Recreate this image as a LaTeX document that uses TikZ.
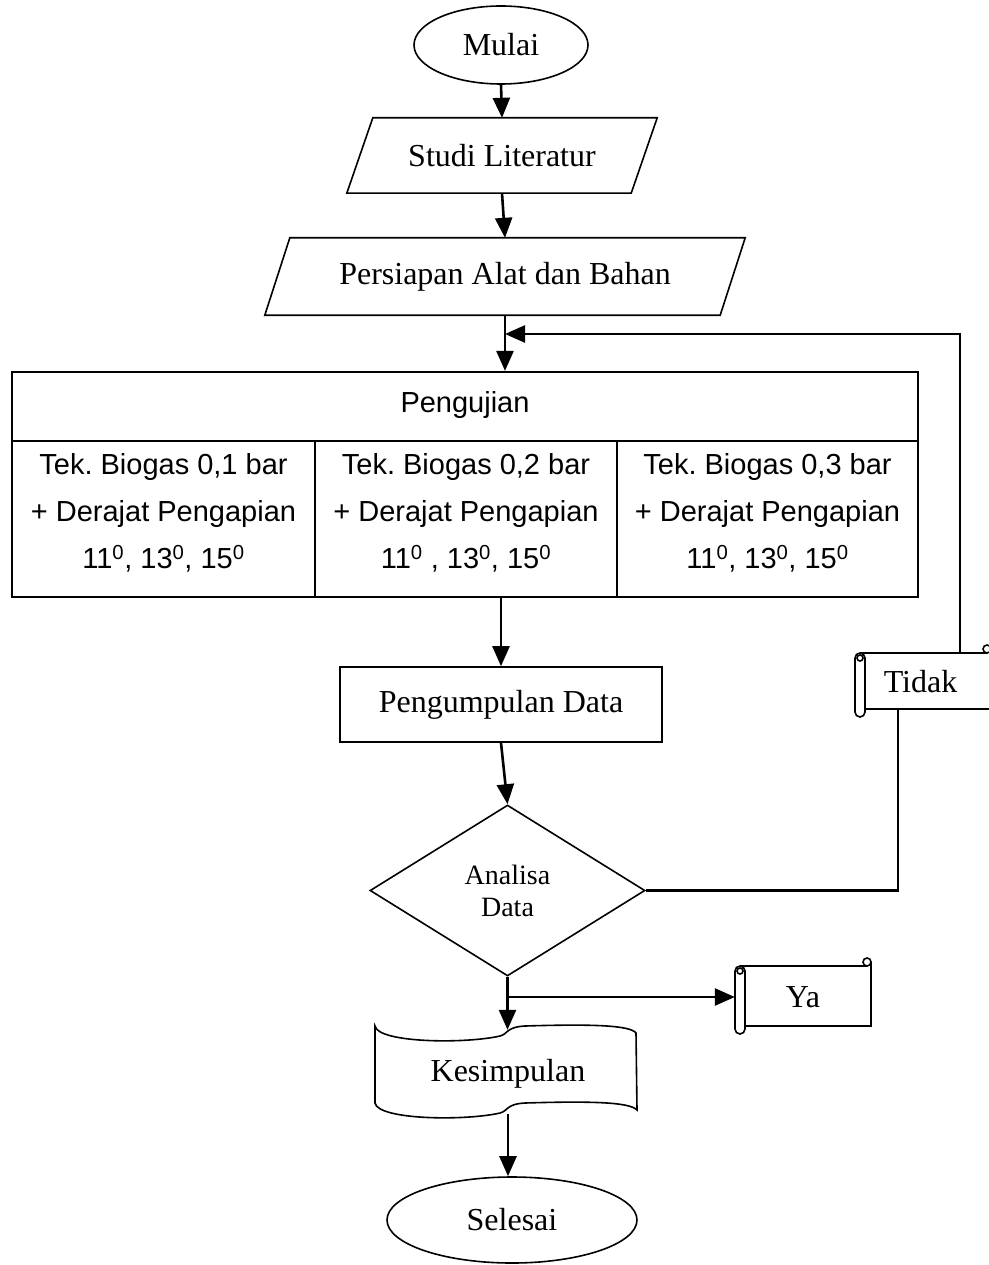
\documentclass[tikz,border=0pt]{standalone}
\usepackage{fontspec}
\setmainfont{Liberation Serif}
\newfontfamily\arialf{Liberation Sans}
\usetikzlibrary{shapes.geometric,arrows.meta,calc}
\newcommand\scrollshape[4]{%
  \draw[shp, rounded corners=5pt] (#1,#3) rectangle (#1+10,#4+8);
  \draw[shp] (#1+5,#3+5) circle (3pt);
  \draw[shp] (#1+5,#3) -- (#2-4,#3);
  \draw[shp] (#2-4,#3-4) circle (4pt);
  \draw[shp] (#2,#3-4) -- (#2,#4) -- (#1+10,#4);
}
\newcommand\dg{\textsuperscript{0}}
\begin{document}
\begin{tikzpicture}[x=1pt,y=-1pt,
  every node/.style={inner sep=0pt},
  serif/.style={font=\fontsize{32}{38}\selectfont},
  sans/.style={font=\arialf\fontsize{29}{47}\selectfont},
  shp/.style={draw, line width=1.6pt},
  arr/.style={line width=2.6pt, -{Triangle[length=20pt,width=17pt]}},
  plain/.style={line width=2.4pt},
  term/.style={shp, ellipse, serif},
  ]
\useasboundingbox (0,0) rectangle (988,1265);

% terminals
\node[term, minimum width=174, minimum height=78] (mulai) at (501,45) {Mulai};
\node[term, minimum width=250, minimum height=86] (sel) at (512,1220) {Selesai};

% parallelograms
\node[serif, minimum width=284, minimum height=75] (studi) at (502,155.5) {Studi Literatur};
\draw[shp] ([xshift=13pt]studi.north west) -- ([xshift=13pt]studi.north east)
  -- ([xshift=-13pt]studi.south east) -- ([xshift=-13pt]studi.south west) -- cycle;
\node[serif, minimum width=455, minimum height=77] (prep) at (505,276.5) {Persiapan Alat dan Bahan};
\draw[shp] ([xshift=12.5pt]prep.north west) -- ([xshift=12.5pt]prep.north east)
  -- ([xshift=-12.5pt]prep.south east) -- ([xshift=-12.5pt]prep.south west) -- cycle;

% table
\node[draw, line width=2.2pt, minimum width=906, minimum height=225] (tbl) at (465,484.5) {};
\draw[line width=2.2pt] (12,441) -- (918,441);
\draw[line width=2.2pt] (315,441) -- (315,597);
\draw[line width=2.2pt] (617,441) -- (617,597);
\node[sans] (hdr) at (465,405) {Pengujian};
\node[sans, align=center] (c1) at (163.5,513) {Tek.\ Biogas 0,1 bar\\+ Derajat Pengapian\\11\dg, 13\dg, 15\dg};
\node[sans, align=center] (c2) at (466,513) {Tek.\ Biogas 0,2 bar\\+ Derajat Pengapian\\11\dg\ , 13\dg, 15\dg};
\node[sans, align=center] (c3) at (767.5,513) {Tek.\ Biogas 0,3 bar\\+ Derajat Pengapian\\11\dg, 13\dg, 15\dg};

% process
\node[shp, serif, minimum width=322, minimum height=75] (peng) at (501,704.5) {Pengumpulan Data};

% decision
\node[shp, diamond, minimum width=275, minimum height=171, align=center,
  font=\fontsize{28}{32}\selectfont] (diam) at (507.5,890.5) {Analisa\\Data};

% scrolls
\scrollshape{855}{991}{653}{709}
\node[serif, minimum width=131, minimum height=56] (tidak) at (920.5,682) {Tidak};
\scrollshape{735}{871}{966}{1026}
\node[serif, minimum width=136, minimum height=60] (ya) at (803,997) {Ya};

% document / tape shape
\draw[shp] (375,1026) .. controls (378,1043) and (465,1044) .. (500,1036)
  .. controls (508,1034) and (506,1027) .. (525,1026)
  .. controls (590,1024) and (630,1025) .. (636,1033)
  -- (637,1110)
  .. controls (630,1102) and (590,1101) .. (525,1103)
  .. controls (506,1104) and (508,1111) .. (500,1113)
  .. controls (465,1121) and (378,1120) .. (375,1103) -- cycle;
\node[serif, minimum width=262, minimum height=80] (kes) at (508,1074) {Kesimpulan};

% connectors
\draw[arr] (mulai.south) -- (studi.north);
\draw[arr] (studi.south) -- (prep.north);
\draw[arr] (prep.south) -- (prep.south |- tbl.north);
\coordinate (fbturn) at (960,334);
\draw[arr] (tidak.north -| fbturn) -- (fbturn) -- (prep.south |- fbturn);
\draw[arr] (peng.north |- tbl.south) -- (peng.north);
\draw[arr] (peng.south) -- (diam.north);
\coordinate (tk) at (898,890.5);
\draw[plain] (diam.east) -- (tk) -- (tk |- tidak.south);
\draw[arr] (diam.south) -- ([yshift=4pt]diam.south |- kes.north);
\draw[arr] (diam.south |- ya.west) -- (ya.west);
\draw[arr] (kes.south) -- (kes.south |- sel.north);
\end{tikzpicture}
\end{document}
